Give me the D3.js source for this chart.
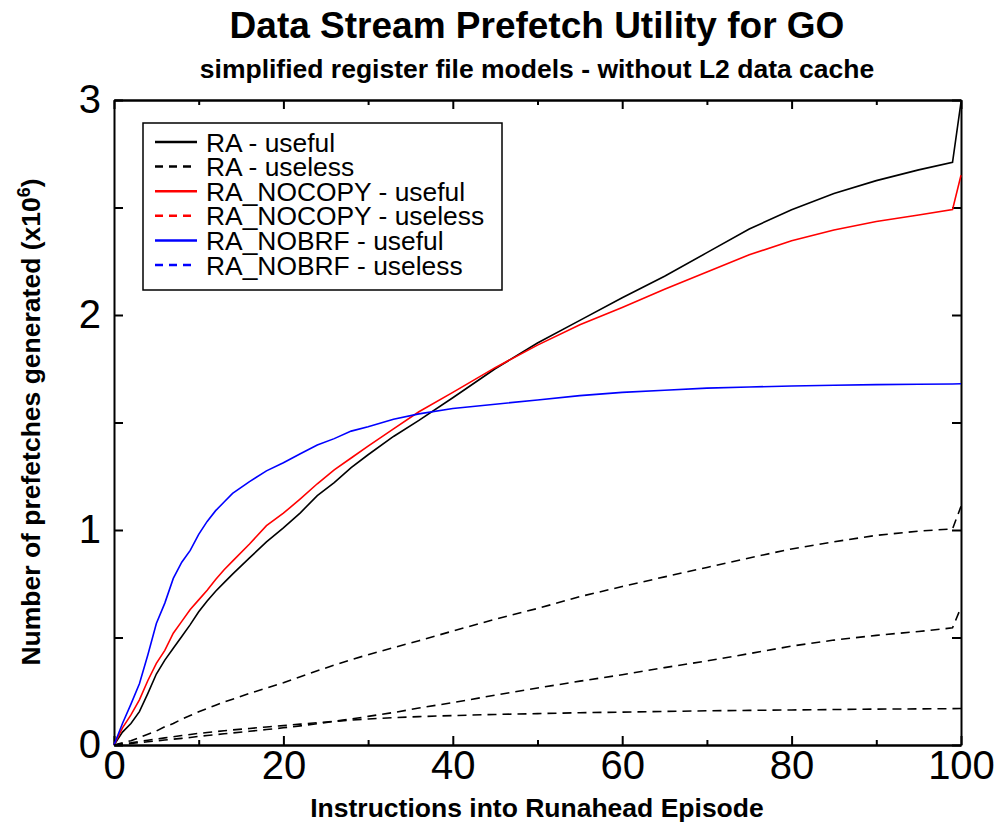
<!DOCTYPE html>
<html>
<head>
<meta charset="utf-8">
<script src="https://cdn.jsdelivr.net/npm/d3@7"></script>
<style>
  body { margin: 0; background: #fff; }
  svg { font-family: "Liberation Sans", Arial, sans-serif; }
  .axis path, .axis line { stroke: #000; stroke-width: 2; }
  .axis text { font-size: 40px; fill: #000; }
</style>
</head>
<body>
<script>
// Data (x = instructions into runahead episode, values in millions)
var xs = [0,1,2,3,4,5,6,7,8,9,10,11,12,13,14,16,18,20,22,24,26,28,30,33,36,40,45,50,55,60,65,70,75,80,85,90,95,99,100];
var raUseful = [0,0.06,0.10,0.155,0.24,0.33,0.395,0.45,0.505,0.56,0.62,0.67,0.715,0.755,0.795,0.87,0.945,1.01,1.08,1.16,1.22,1.29,1.35,1.435,1.51,1.615,1.75,1.87,1.975,2.08,2.18,2.29,2.40,2.49,2.565,2.625,2.675,2.71,2.99];
var raUseless = [0,0.01,0.02,0.035,0.05,0.065,0.085,0.1,0.12,0.137,0.155,0.17,0.185,0.2,0.213,0.24,0.265,0.29,0.318,0.345,0.372,0.397,0.42,0.453,0.485,0.53,0.585,0.635,0.69,0.737,0.782,0.826,0.87,0.912,0.945,0.975,0.995,1.005,1.11];
var noCopyUseful = [0,0.08,0.14,0.21,0.30,0.38,0.44,0.52,0.575,0.63,0.675,0.72,0.77,0.815,0.855,0.935,1.02,1.078,1.145,1.215,1.28,1.335,1.39,1.47,1.55,1.64,1.755,1.86,1.955,2.035,2.12,2.20,2.28,2.345,2.395,2.435,2.465,2.49,2.65];
var noCopyUseless = [0,0.003,0.007,0.011,0.015,0.019,0.023,0.027,0.031,0.035,0.04,0.044,0.048,0.052,0.056,0.064,0.072,0.08,0.089,0.099,0.11,0.121,0.133,0.151,0.172,0.197,0.232,0.265,0.297,0.327,0.36,0.391,0.425,0.46,0.488,0.51,0.528,0.545,0.64];
var noBrfUseful = [0,0.10,0.19,0.285,0.42,0.565,0.66,0.775,0.85,0.905,0.98,1.04,1.09,1.13,1.17,1.225,1.275,1.313,1.355,1.395,1.425,1.46,1.48,1.515,1.54,1.565,1.585,1.605,1.625,1.64,1.65,1.66,1.665,1.67,1.673,1.676,1.678,1.679,1.68];
var noBrfUseless = [0,0.005,0.01,0.016,0.022,0.028,0.033,0.038,0.044,0.049,0.054,0.058,0.062,0.066,0.07,0.077,0.084,0.09,0.097,0.104,0.11,0.116,0.121,0.127,0.132,0.137,0.142,0.146,0.15,0.153,0.156,0.159,0.161,0.163,0.165,0.167,0.168,0.169,0.17];

var seriesNames = ['RA - useful','RA - useless','RA_NOCOPY - useful','RA_NOCOPY - useless','RA_NOBRF - useful','RA_NOBRF - useless'];
var seriesValues = [raUseful, raUseless, noCopyUseful, noCopyUseless, noBrfUseful, noBrfUseless];
var legendColors = ['#000','#000','#ff0000','#ff0000','#0000ff','#0000ff'];
// in the plot every "useless" curve is drawn black dashed
var lineColors = ['#000','#000','#ff0000','#000','#0000ff','#000'];
var dashed = [false,true,false,true,false,true];

var xMajor = [0,20,40,60,80,100];
var xMinor = [10,30,50,70,90];
var yTicks = [0,0.5,1,1.5,2,2.5,3];

var margin = {top: 100, right: 45, bottom: 85, left: 114};
var width = 1006 - margin.left - margin.right;
var height = 830 - margin.top - margin.bottom;

var root = d3.select('body').append('svg')
  .attr('width', 1006)
  .attr('height', 830);
var svg = root.append('g')
  .attr('transform', 'translate(' + margin.left + ',' + margin.top + ')');

var xScale = d3.scaleLinear().domain([0,100]).range([0, width]);
var yScale = d3.scaleLinear().domain([0,3]).range([height, 0]);

// axes, ticks point inward
svg.append('g').attr('class','axis')
  .attr('transform','translate(0,' + height + ')')
  .call(d3.axisBottom(xScale).tickValues(xMajor).tickSize(-9).tickSizeOuter(0).tickPadding(6));
svg.append('g').attr('class','axis')
  .attr('transform','translate(0,' + height + ')')
  .call(d3.axisBottom(xScale).tickValues(xMinor).tickSize(-5).tickSizeOuter(0).tickFormat(''));
svg.append('g').attr('class','axis')
  .call(d3.axisTop(xScale).tickValues(xMajor).tickSize(-9).tickSizeOuter(0).tickFormat(''));
svg.append('g').attr('class','axis')
  .call(d3.axisTop(xScale).tickValues(xMinor).tickSize(-5).tickSizeOuter(0).tickFormat(''));
svg.append('g').attr('class','axis')
  .call(d3.axisLeft(yScale).tickValues(yTicks).tickSize(-9).tickSizeOuter(0).tickPadding(13)
    .tickFormat(function(d){ return Number.isInteger(d) ? d : ''; }));
svg.append('g').attr('class','axis')
  .attr('transform','translate(' + width + ',0)')
  .call(d3.axisRight(yScale).tickValues(yTicks).tickSize(-9).tickSizeOuter(0).tickFormat(''));

var line = d3.line()
  .x(function(d){ return xScale(d[0]); })
  .y(function(d){ return yScale(d[1]); });

seriesValues.forEach(function(vals, i){
  svg.append('path')
    .datum(xs.map(function(x, j){ return [x, vals[j]]; }))
    .attr('fill','none')
    .attr('stroke', lineColors[i])
    .attr('stroke-width', 1.6)
    .attr('stroke-dasharray', dashed[i] ? '9,6' : null)
    .attr('d', line);
});

// legend
var legend = svg.append('g').attr('transform','translate(29,23)');
legend.append('rect')
  .attr('width', 359).attr('height', 167)
  .attr('fill','#fff').attr('stroke','#000').attr('stroke-width',1.5);
var item = legend.selectAll('.legend')
  .data(seriesNames)
  .enter().append('g')
  .attr('class','legend')
  .attr('transform', function(d,i){ return 'translate(0,' + (19 + i * 24.6) + ')'; });
item.append('line')
  .attr('x1', 12).attr('x2', 54)
  .attr('stroke', function(d,i){ return legendColors[i]; })
  .attr('stroke-width', 2.5)
  .attr('stroke-dasharray', function(d,i){ return dashed[i] ? '8,6' : null; });
item.append('text')
  .attr('x', 63)
  .attr('dy', '0.36em')
  .style('font-size','26.4px')
  .text(function(d){ return d; });

// titles
root.append('text')
  .attr('x', 537).attr('y', 38)
  .attr('text-anchor','middle')
  .style('font-size','37px').style('font-weight','bold')
  .text('Data Stream Prefetch Utility for GO');
root.append('text')
  .attr('x', 537).attr('y', 78)
  .attr('text-anchor','middle')
  .style('font-size','26.5px').style('font-weight','bold')
  .text('simplified register file models - without L2 data cache');
root.append('text')
  .attr('x', 537).attr('y', 817)
  .attr('text-anchor','middle')
  .style('font-size','26.5px').style('font-weight','bold')
  .text('Instructions into Runahead Episode');
var yLabel = root.append('text')
  .attr('transform','translate(40,422) rotate(-90)')
  .attr('text-anchor','middle')
  .style('font-size','26.5px').style('font-weight','bold');
yLabel.append('tspan').text('Number of prefetches generated (x10');
yLabel.append('tspan').attr('dy','-10').style('font-size','18px').text('6');
yLabel.append('tspan').attr('dy','10').text(')');
</script>
</body>
</html>
